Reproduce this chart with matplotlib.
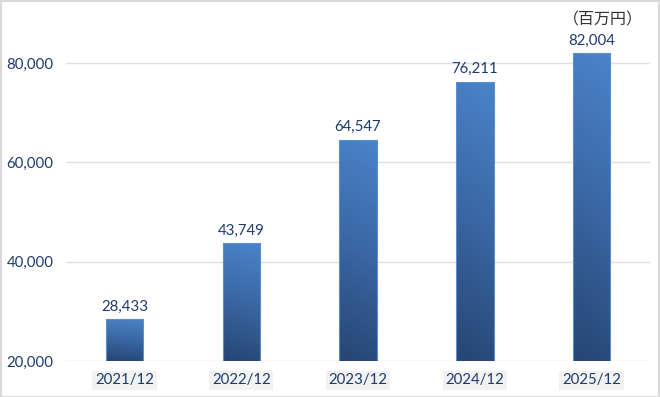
import numpy as np
import matplotlib.pyplot as plt
from matplotlib.colors import LinearSegmentedColormap
from matplotlib.patches import Rectangle

# chart data
periods = ['2021/12', '2022/12', '2023/12', '2024/12', '2025/12']
sales = [28433, 43749, 64547, 76211, 82004]
y_ticks = [20000, 40000, 60000, 80000]
unit_label = '（百万円）'

text_color = '#1f3b6e'
plt.rcParams['font.family'] = ['Lato', 'DejaVu Sans']

fig = plt.figure(figsize=(6.6, 3.97), dpi=100)
ax = fig.add_axes([0.1, 0.0907, 0.885, 0.8257])

x = np.arange(len(periods))
bars = ax.bar(x, sales, width=0.32, color='none', edgecolor='#5b8fd0', linewidth=0.8, zorder=3)

# gradient fill for each bar (lighter top, darker bottom)
cmap = LinearSegmentedColormap.from_list('bar', ['#264673', '#3a66a3', '#4a84c9'])
grad = np.linspace(0, 1, 256).reshape(-1, 1)
grad = grad + np.linspace(0, 0.08, 8).reshape(1, -1)
for b in bars:
    bx, by = b.get_x(), b.get_y()
    w, h = b.get_width(), b.get_height()
    im = ax.imshow(grad, cmap=cmap, aspect='auto', origin='lower',
                   extent=[bx, bx + w, 20000, by + h], zorder=2, vmin=0, vmax=1.08)
    im.set_clip_path(Rectangle((bx, 20000), w, by + h - 20000, transform=ax.transData))

for xi, v in zip(x, sales):
    ax.annotate(f'{v:,}', (xi, v), xytext=(0, 4), textcoords='offset points',
                ha='center', va='bottom', fontsize=10.8, color=text_color)

ax.set_xlim(-0.5, len(periods) - 0.5)
ax.set_ylim(20000, 86000)
ax.set_yticks(y_ticks)
ax.set_yticklabels([f'{t:,}' for t in y_ticks])
ax.set_xticks(x)
ax.set_xticklabels(periods)
ax.tick_params(axis='y', length=0, pad=9, labelsize=10.8, labelcolor=text_color)
ax.tick_params(axis='x', length=0, pad=9, labelsize=10.8, labelcolor=text_color)
for lbl in ax.get_xticklabels():
    lbl.set_bbox(dict(facecolor='#f2f2f2', edgecolor='none', pad=2))

ax.grid(axis='y', color='#e0e0e0', linewidth=1, zorder=0)
ax.set_axisbelow(True)
for s in ax.spines.values():
    s.set_visible(False)

fig.text(0.914, 0.95, unit_label, ha='center', va='center', fontsize=11.5,
         color='#333333', family=['Noto Sans CJK JP', 'DejaVu Sans'])

# light border around the whole picture
fig.patches.append(Rectangle((0.001, 0.001), 0.997, 0.996, transform=fig.transFigure,
                             fill=False, edgecolor='#d9d9d9', linewidth=1.5))

fig.savefig('out.png', dpi=100)
